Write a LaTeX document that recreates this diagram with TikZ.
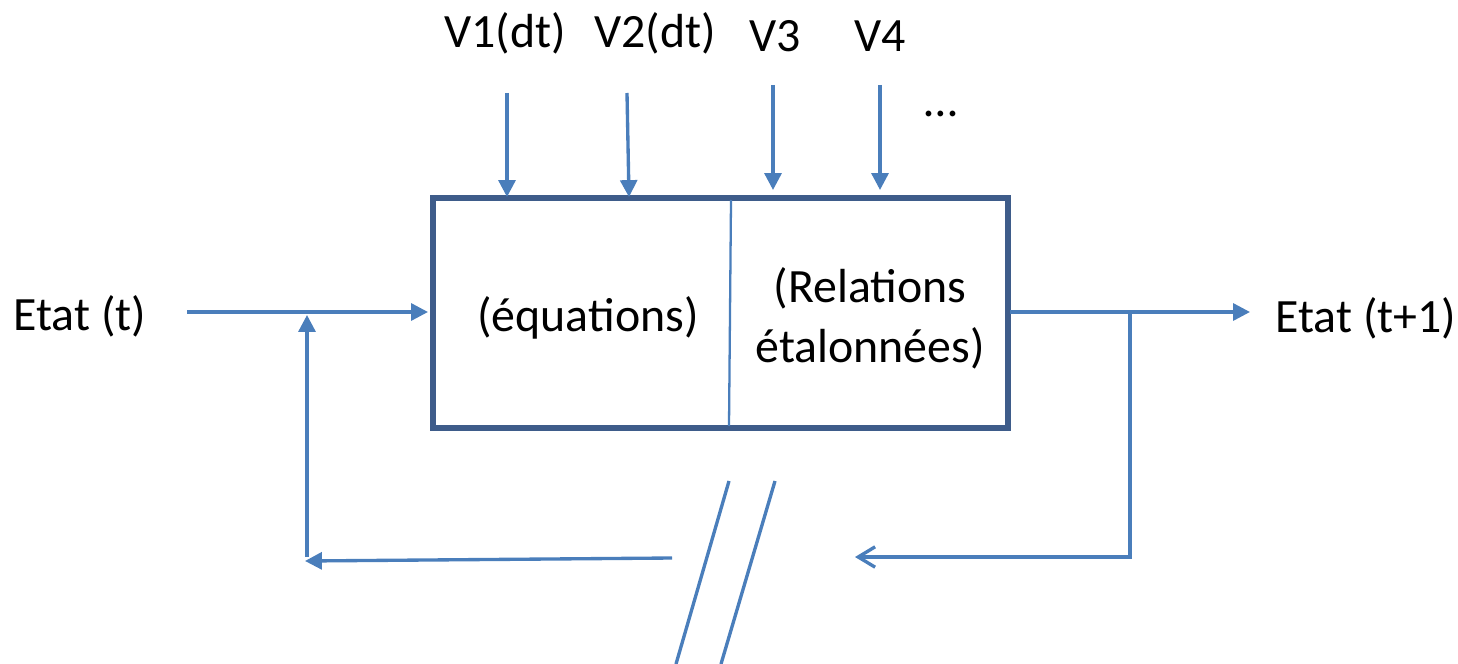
\documentclass[tikz,border=0pt]{standalone}
\usepackage{fontspec}
\setmainfont{Carlito}
\usetikzlibrary{arrows.meta}
\definecolor{boxblue}{RGB}{62,92,138}
\definecolor{linkblue}{RGB}{74,126,187}
\begin{document}
\begin{tikzpicture}[x=0.01cm,y=-0.01cm,
  lbl/.style={inner sep=0pt,font=\fontsize{13.6}{16}\selectfont,align=center},
  conn/.style={draw=linkblue,line width=0.95pt},
  arr/.style={conn,-{Triangle[length=4.8pt,width=4.8pt]}},
  openarr/.style={conn,-{Straight Barb[length=4.8pt,width=5.8pt,line width=0.95pt]}}]
\useasboundingbox (0,0) rectangle (1458,664);
% main box
\node[draw=boxblue,line width=1.75pt,minimum width=5.75cm,minimum height=2.3cm,inner sep=0pt] (box) at (720.5,313) {};
\coordinate (divT) at (731,200);
\coordinate (divB) at (729,426);
\draw[draw=linkblue,line width=0.65pt] (divT) -- (divB);
% texts
\node[lbl] (eq) at (588,318) {(équations)};
\node[lbl] (rel) at (870,318) {(Relations\\[1pt]étalonnées)};
\node[lbl] (v1) at (505,33) {V1(dt)};
\node[lbl] (v2) at (655,33) {V2(dt)};
\node[lbl] (v3) at (775,36) {V3};
\node[lbl] (v4) at (880,36) {V4};
\node[lbl] (dots) at (941,114) {…};
\node[lbl] (et) at (80,316) {Etat (t)};
\node[lbl] (et1) at (1366,318) {Etat (t+1)};
% top arrows
\coordinate (a1s) at (507,93);  \coordinate (a1e) at (507,197);
\coordinate (a2s) at (627,93);  \coordinate (a2e) at (629,197);
\coordinate (a3s) at (773,85);  \coordinate (a3e) at (773,190);
\coordinate (a4s) at (880,85);  \coordinate (a4e) at (880,190);
\draw[arr] (a1s) -- (a1e);
\draw[arr] (a2s) -- (a2e);
\draw[arr] (a3s) -- (a3e);
\draw[arr] (a4s) -- (a4e);
% input
\coordinate (ins) at (187,312); \coordinate (ine) at (428,312);
\draw[arr] (ins) -- (ine);
% feedback left
\coordinate (fbs) at (672,558); \coordinate (fbc) at (305,561); \coordinate (fbe) at (307,315);
\draw[arr] (fbs) -- (fbc);
\draw[arr] (307,557) -- (fbe);
% output
\coordinate (outs) at (1010,312); \coordinate (oute) at (1250,312);
\draw[arr] (outs) -- (oute);
% feedback right
\coordinate (rj) at (1130,312); \coordinate (rc) at (1130,557); \coordinate (re) at (855,557);
\draw[openarr] (rj) -- (rc) -- (re);
% break marks
\coordinate (b1s) at (729,481); \coordinate (b1e) at (676,664);
\coordinate (b2s) at (775,481); \coordinate (b2e) at (721,664);
\draw[conn] (b1s) -- (b1e);
\draw[conn] (b2s) -- (b2e);
\end{tikzpicture}
\end{document}
